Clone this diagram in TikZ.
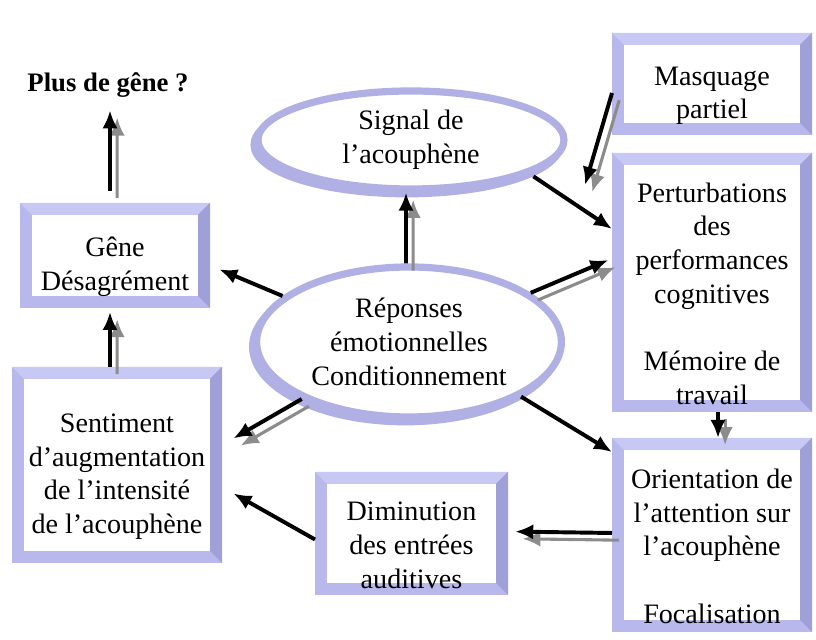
\documentclass[tikz,border=0pt]{standalone}
\usepackage{fontspec}
\setmainfont{Liberation Serif}
\usetikzlibrary{arrows.meta,shapes.geometric}

\definecolor{lavbox}{HTML}{B8B8EC}
\definecolor{lavring}{HTML}{B0B0E4}
\definecolor{lavdark}{HTML}{A0A0D8}
\definecolor{lavlight}{HTML}{C8C8F4}
\definecolor{shadowgray}{HTML}{8C8C8C}

% taller first line, so the text sits a little low in its box
\newcommand\topstrut{\rule{0pt}{1.05cm}}

\tikzset{
  bevel/.style={rectangle, draw=lavbox, line width=0.3cm, outer sep=0.15cm, fill=white,
    align=center, inner sep=0pt, font=\fontsize{20}{24}\selectfont},
  oval/.style={ellipse, draw=lavring, line width=0.18cm, outer sep=0.09cm, fill=white,
    align=center, inner sep=0pt, font=\fontsize{20}{24}\selectfont,
    preaction={draw=lavring, fill=lavring, transform canvas={shift={(-0.1cm,-0.12cm)}}}},
  arr/.style={-{Latex[length=0.45cm,width=0.38cm]}, line width=2.8pt},
  dblarr/.style={arr, preaction={draw=shadowgray, line width=2.2pt,
    transform canvas={shift={(0.18cm,-0.18cm)}}}}
}

\begin{document}
\begin{tikzpicture}
  \useasboundingbox (0,0) rectangle (20.4,16);
  % Ovals
  \node[oval, minimum width=7.65cm, minimum height=2.45cm] (signal) at (10.275,12.5) {Signal de\\l'acouphène};
  \node[oval, minimum width=7.62cm, minimum height=3.75cm] (rep) at (10.225,7.45) {Réponses\\émotionnelles\\Conditionnement};
  % Boxes
  \node[bevel, minimum width=4.45cm, minimum height=2.325cm] (gene) at (2.875,9.6125) {\topstrut Gêne\\Désagrément};
  \node[bevel, minimum width=4.95cm, minimum height=4.6cm] (sent) at (2.925,4.375) {\topstrut Sentiment\\d'augmentation\\de l'intensité\\de l'acouphène};
  \node[bevel, minimum width=4.7cm, minimum height=2.25cm] (masq) at (17.8,13.9) {\topstrut Masquage\\partiel};
  \node[bevel, minimum width=4.7cm, minimum height=6.175cm] (pert) at (17.8,8.9375) {\topstrut Perturbations\\des\\performances\\cognitives\\[24pt]Mémoire de\\travail};
  \node[bevel, minimum width=4.7cm, minimum height=4.55cm] (orient) at (17.8,2.625) {\topstrut Orientation de\\l'attention sur\\l'acouphène\\[24pt]Focalisation};
  \node[bevel, minimum width=4.525cm, minimum height=2.775cm] (dimin) at (10.2875,2.6625) {\topstrut Diminution\\des entrées\\auditives};
  \node[font=\bfseries\fontsize{19}{22}\selectfont] (plus) at (2.7,13.875) {Plus de gêne ?};
  % Bevel edges
  \foreach \n in {gene,sent,masq,pert,orient,dimin} {
    \fill[lavlight] (\n.north west) -- (\n.north east) -- ([shift={(-0.3cm,-0.3cm)}]\n.north east) -- ([shift={(0.3cm,-0.3cm)}]\n.north west) -- cycle;
    \fill[lavdark] ([shift={(-0.3cm,-0.3cm)}]\n.north east) -- (\n.north east) -- (\n.south east) -- ([shift={(-0.3cm,0.3cm)}]\n.south east) -- cycle;
  }
  % Left column
  \draw[dblarr, shorten <=0.3cm, shorten >=0.2cm] ([xshift=-0.125cm]gene.north) -- ([xshift=0.05cm]plus.south);
  \draw[dblarr, shorten >=0.1cm] ([xshift=-0.175cm]sent.north) -- ([xshift=-0.125cm]gene.south);
  % From the responses
  \draw[dblarr] ([xshift=-0.075cm]rep.north) -- ([xshift=-0.125cm]signal.south);
  \draw[arr, shorten >=0.25cm] (rep.160) -- ([yshift=-0.25cm]gene.east);
  \draw[dblarr, shorten >=0.33cm] (rep.208) -- ([yshift=0.5cm]sent.east);
  \draw[dblarr, shorten >=0.1cm] (rep.22) -- ([yshift=0.6cm]pert.west);
  \draw[arr] (rep.-26) -- ([yshift=-0.35cm]orient.north west);
  % Right column
  \draw[arr, shorten <=0.1cm] (signal.-16) -- ([yshift=-1.9cm]pert.north west);
  \draw[dblarr] ([yshift=-0.225cm]masq.west) -- ([shift={(-0.675cm,-0.8cm)}]pert.north west);
  \draw[dblarr] ([xshift=0.15cm]pert.south) -- ([xshift=0.15cm]orient.north);
  % Bottom row
  \draw[dblarr, shorten >=0.18cm] ([yshift=0.05cm]orient.west) -- ([yshift=0.05cm]dimin.east);
  \draw[arr, shorten >=0.33cm] ([yshift=-0.15cm]dimin.west) -- ([yshift=-0.55cm]sent.east);
\end{tikzpicture}
\end{document}
